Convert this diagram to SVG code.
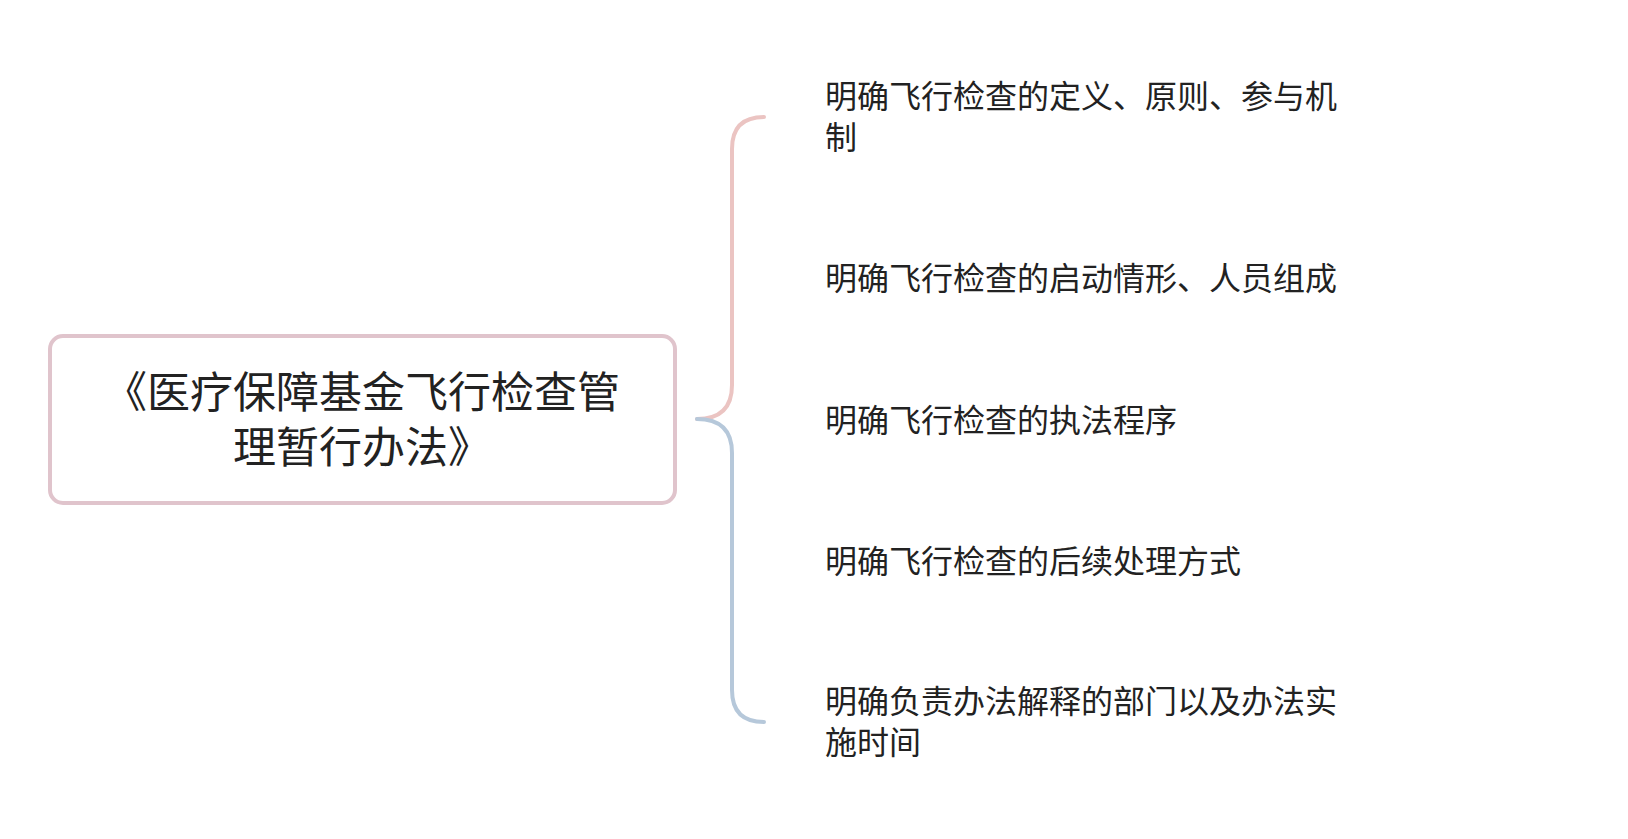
<svg xmlns="http://www.w3.org/2000/svg" width="1628" height="839" viewBox="0 0 1628 839">
<style>
.t{font-family:"Noto Sans CJK SC","Noto Sans",sans-serif;fill:#222;}
.leaf{font-size:32px;}
.root{font-size:43px;}
.c{fill:none;stroke-width:4;stroke-linecap:round;}
</style>
<rect width="1628" height="839" fill="#ffffff"/>
<g id="connectors">
<path class="c" stroke="#EBC4C2" d="M697 419 Q732 419 732 385 L732 149 Q732 117 764 117"/>
<path class="c" stroke="#B6C8DA" d="M697 419 Q732 419 732 453 L732 690 Q732 722 764 722"/>
</g>
<g id="root">
<rect x="50" y="336" width="625" height="167" rx="13" fill="#fff" stroke="#E0C4CC" stroke-width="4"/>
<text class="t root" text-anchor="middle"><tspan x="362" y="408">《医疗保障基金飞行检查管</tspan><tspan x="362" y="463">理暂行办法》</tspan></text>
</g>
<g id="n1"><text class="t leaf"><tspan x="825" y="108">明确飞行检查的定义、原则、参与机</tspan><tspan x="825" y="149">制</tspan></text></g>
<g id="n2"><text class="t leaf" x="825" y="290">明确飞行检查的启动情形、人员组成</text></g>
<g id="n3"><text class="t leaf" x="825" y="432">明确飞行检查的执法程序</text></g>
<g id="n4"><text class="t leaf" x="825" y="573">明确飞行检查的后续处理方式</text></g>
<g id="n5"><text class="t leaf"><tspan x="825" y="713">明确负责办法解释的部门以及办法实</tspan><tspan x="825" y="754">施时间</tspan></text></g>
</svg>
